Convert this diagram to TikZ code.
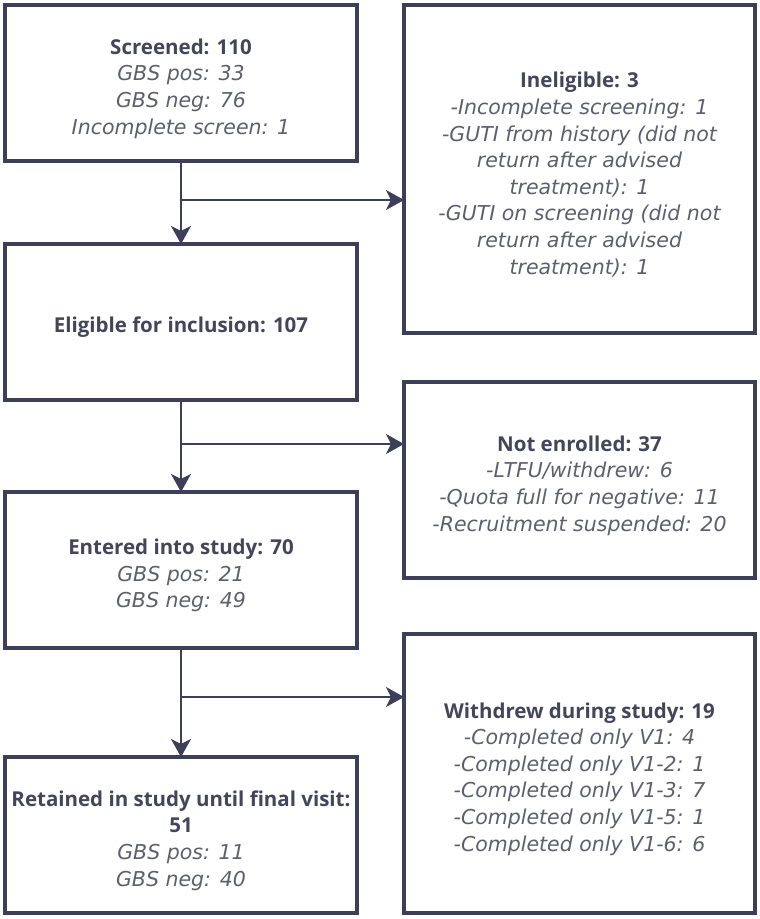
\documentclass[tikz,border=0pt]{standalone}
\usepackage{fontspec}
\setmainfont{Open Sans}
\newfontfamily\subfont{DejaVu Sans}
\usetikzlibrary{arrows.meta}
\definecolor{linec}{HTML}{3D3E58}
\definecolor{titlec}{HTML}{44455A}
\definecolor{subc}{HTML}{5E5F6E}
\newcommand{\ttl}[1]{{\color{titlec}\fontsize{20.5}{26.6}\selectfont\bfseries #1}}
\newcommand{\sub}[1]{{\color{subc}\subfont\fontsize{20.5}{26.6}\selectfont\itshape #1}}
\begin{document}
\begin{tikzpicture}[x=1pt,y=-1pt,
  boxst/.style={draw=linec, line width=4pt, rectangle, inner sep=0pt, outer sep=0pt, fill=white},
  lbox/.style={boxst, minimum width=352pt, minimum height=156pt},
  rbox/.style={boxst, minimum width=351pt},
  txt/.style={align=center, inner sep=0pt, yshift=-5.5pt, font=\fontsize{20.5}{26.6}\selectfont},
  conn/.style={draw=linec, line width=2pt},
  arr/.style={conn, -{Stealth[length=18pt,width=20pt,inset=5pt]}}]
\useasboundingbox[fill=white] (0,0) rectangle (760,919);

\node[lbox] (b1) at (181,83) {};
\node[lbox] (b2) at (181,322) {};
\node[lbox] (b3) at (181,570) {};
\node[lbox] (b4) at (181,835) {};
\node[rbox, minimum height=328pt] (r1) at (579.5,169) {};
\node[rbox, minimum height=196pt] (r2) at (579.5,480) {};
\node[rbox, minimum height=279pt] (r3) at (579.5,773.5) {};

\node[txt] (b1t) at (b1.center) {\ttl{Screened: 110}\\ \sub{GBS pos: 33}\\ \sub{GBS neg: 76}\\ \sub{Incomplete screen: 1}};
\node[txt] (b2t) at (b2.center) {\ttl{Eligible for inclusion: 107}};
\node[txt] (b3t) at (b3.center) {\ttl{Entered into study: 70}\\ \sub{GBS pos: 21}\\ \sub{GBS neg: 49}};
\node[txt] (b4t) at (b4.center) {\ttl{Retained in study until final visit:}\\ \ttl{51}\\ \sub{GBS pos: 11}\\ \sub{GBS neg: 40}};
\node[txt] (r1t) at (r1.center) {\ttl{Ineligible: 3}\\ \sub{-Incomplete screening: 1}\\ \sub{-GUTI from history (did not}\\ \sub{return after advised}\\ \sub{treatment): 1}\\ \sub{-GUTI on screening (did not}\\ \sub{return after advised}\\ \sub{treatment): 1}};
\node[txt] (r2t) at (r2.center) {\ttl{Not enrolled: 37}\\ \sub{-LTFU/withdrew: 6}\\ \sub{-Quota full for negative: 11}\\ \sub{-Recruitment suspended: 20}};
\node[txt] (r3t) at (r3.center) {\ttl{Withdrew during study: 19}\\ \sub{-Completed only V1: 4}\\ \sub{-Completed only V1-2: 1}\\ \sub{-Completed only V1-3: 7}\\ \sub{-Completed only V1-5: 1}\\ \sub{-Completed only V1-6: 6}};

\coordinate (j1) at (181,200);
\coordinate (j2) at (181,444);
\coordinate (j3) at (181,697);

\draw[arr] (b1.south) -- (b2.north);
\draw[arr] (j1) -- (j1 -| r1.west);
\draw[arr] (b2.south) -- (b3.north);
\draw[arr] (j2) -- (j2 -| r2.west);
\draw[arr] (b3.south) -- (b4.north);
\draw[arr] (j3) -- (j3 -| r3.west);
\end{tikzpicture}
\end{document}
